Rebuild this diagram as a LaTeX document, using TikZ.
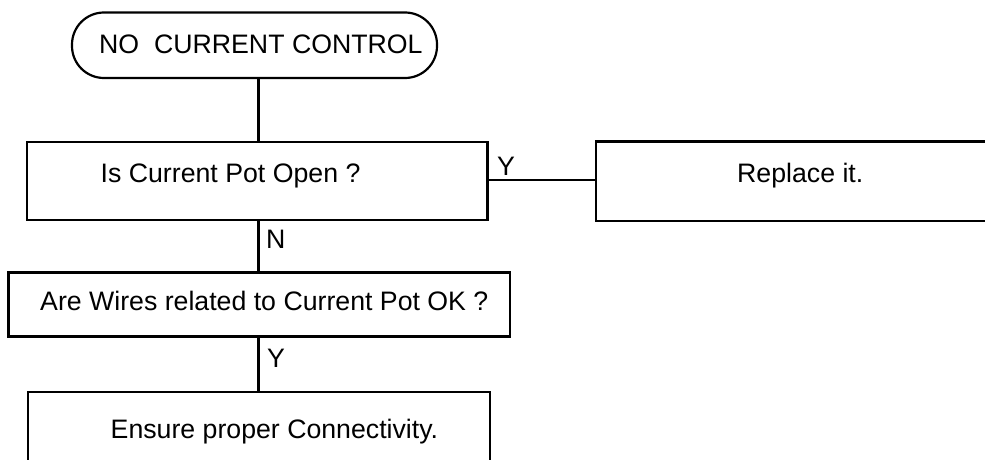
\documentclass[tikz,border=0pt]{standalone}
\usepackage{fontspec}
\setmainfont{Liberation Sans}
\begin{document}
\begin{tikzpicture}[x=1pt,y=-1pt,
  box/.style={draw=black,line width=2.2pt,rectangle,inner sep=0pt,fill=none},
  term/.style={draw=black,line width=2.2pt,rectangle,rounded corners=32pt,inner sep=0pt},
  txt/.style={anchor=base west,inner sep=0pt,font=\fontsize{26.7}{30}\selectfont},
  lbl/.style={anchor=base west,inner sep=0pt,font=\fontsize{26.7}{30}\selectfont},
  conn/.style={draw=black,line width=2.8pt},
  hconn/.style={draw=black,line width=2.2pt}]
\useasboundingbox (0,0) rectangle (985,460);
\clip (0,0) rectangle (985,460);
\fill[white] (0,0) rectangle (985,460);
% boxes
\node[term, minimum width=365pt, minimum height=65.5pt] (start) at (254.5,45.25) {};
\node[box, minimum width=460.5pt, minimum height=78pt] (b1) at (257.25,181) {};
\node[box, minimum width=420pt, minimum height=79.5pt] (b4) at (806,181.25) {};
\node[box, minimum width=501.5pt, minimum height=64pt] (b2) at (259.25,304.5) {};
\node[box, minimum width=462pt, minimum height=100pt] (b3) at (259,442) {};
% texts
\node[txt] (tstart) at (99,53) {NO\ \ CURRENT CONTROL};
\node[txt] (tb1) at (100.5,182) {Is Current Pot Open ?};
\node[txt] (tb4) at (737,182) {Replace it.};
\node[txt] (tb2) at (40,310) {Are Wires related to Current Pot OK ?};
\node[txt] (tb3) at (110.5,438) {Ensure proper Connectivity.};
% connectors
\coordinate (vx) at (258.5,0);
\draw[conn] (vx |- start.south) -- (vx |- b1.north);
\draw[conn] (vx |- b1.south) -- (vx |- b2.north);
\draw[conn] (vx |- b2.south) -- (vx |- b3.north);
\draw[hconn] (b1.east |- 0,180) -- (b4.west |- 0,180);
% labels
\node[lbl] (ln) at (266,248) {N};
\node[lbl] (ly1) at (267,367) {Y};
\node[lbl] (ly2) at (497,175) {Y};
\end{tikzpicture}
\end{document}
